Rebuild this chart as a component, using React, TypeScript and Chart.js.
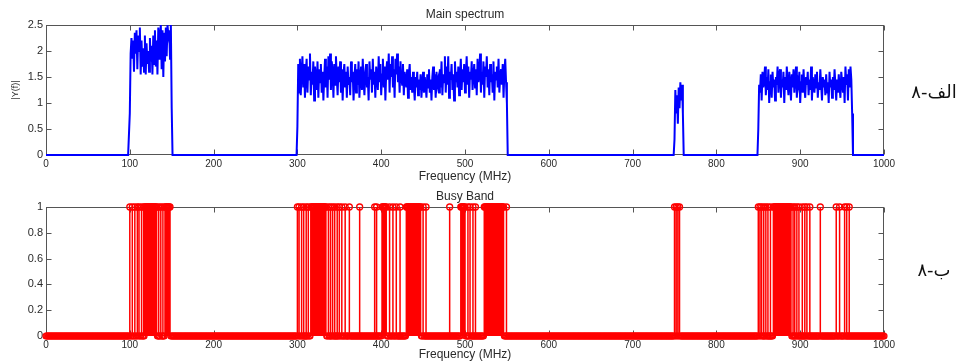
import React, { useEffect, useRef } from "react";
import { Chart, registerables } from "chart.js";

Chart.register(...registerables);

// ---------------- data ----------------
const FREQ_MIN = 0;
const FREQ_MAX = 1000;
const FREQ_STEP = 1;

const xTickValues = [0, 100, 200, 300, 400, 500, 600, 700, 800, 900, 1000];
const spectrumTickValues = [0, 0.5, 1, 1.5, 2, 2.5];
const busyTickValues = [0, 0.2, 0.4, 0.6, 0.8, 1];

// |Y(f)| samples, 1 MHz apart, starting at the band's first frequency
const band1Start = 100;
const band1Values = [
  0.8, 1.95, 2.25, 1.85, 2.2, 1.6, 2.35, 1.95, 2.4, 1.65,
  2.3, 2.0, 2.45, 1.55, 2.2, 1.7, 2.05, 1.6, 2.3, 1.55,
  2.15, 1.75, 2.0, 1.6, 2.25, 1.8, 2.1, 1.55, 2.3, 1.75,
  2.4, 1.7, 2.2, 1.55, 2.45, 1.85, 2.3, 2.5, 1.65, 2.4,
  1.5, 2.35, 1.8, 2.45, 1.9, 2.5, 2.3, 2.4, 1.85, 2.5,
  0.9,
];

const band2Start = 300;
const band2Values = [
  0.55, 1.75, 1.2, 1.85, 1.15, 1.6, 1.9, 1.3, 1.75, 1.1,
  1.55, 1.85, 1.2, 1.7, 1.45, 1.95, 1.15, 1.6, 1.35, 1.8,
  1.05, 1.7, 1.5, 1.25, 1.8, 1.1, 1.65, 1.4, 1.75, 1.2,
  1.6, 1.05, 1.5, 1.85, 1.3, 1.7, 1.1, 1.9, 1.45, 1.95,
  1.25, 1.8, 1.6, 1.1, 1.75, 1.35, 1.9, 1.5, 1.15, 1.7,
  1.4, 1.8, 1.2, 1.65, 1.05, 1.55, 1.75, 1.3, 1.6, 1.1,
  1.7, 1.35, 1.5, 1.15, 1.8, 1.4, 1.6, 1.05, 1.45, 1.75,
  1.2, 1.65, 1.35, 1.8, 1.1, 1.5, 1.7, 1.25, 1.85, 1.4,
  1.15, 1.6, 1.75, 1.3, 1.5, 1.05, 1.8, 1.45, 1.65, 1.2,
  1.85, 1.35, 1.6, 1.1, 1.7, 1.5, 1.25, 1.9, 1.4, 1.75,
  1.15, 1.55, 1.85, 1.3, 1.7, 1.05, 1.6, 1.8, 1.45, 1.95,
  1.2, 1.75, 1.5, 1.9, 1.3, 1.65, 1.1, 1.85, 1.55, 1.95,
  1.4, 1.7, 1.2, 1.8, 1.5, 1.35, 1.75, 1.15, 1.6, 1.45,
  1.3, 1.65, 1.1, 1.55, 1.75, 1.25, 1.5, 1.2, 1.6, 1.35,
  1.05, 1.5, 1.3, 1.6, 1.15, 1.45, 1.25, 1.55, 1.1, 1.4,
  1.6, 1.2, 1.5, 1.35, 1.1, 1.55, 1.3, 1.65, 1.2, 1.45,
  1.05, 1.5, 1.7, 1.25, 1.55, 1.1, 1.6, 1.35, 1.45, 1.2,
  1.65, 1.3, 1.8, 1.15, 1.55, 1.4, 1.9, 1.2, 1.7, 1.35,
  1.9, 1.1, 1.6, 1.45, 1.75, 1.25, 1.55, 1.05, 1.8, 1.4,
  1.6, 1.3, 1.7, 1.15, 1.5, 1.85, 1.25, 1.65, 1.4, 1.75,
  1.2, 1.55, 1.9, 1.35, 1.7, 1.1, 1.6, 1.45, 1.8, 1.25,
  1.5, 1.75, 1.3, 1.65, 1.15, 1.85, 1.4, 1.55, 1.95, 1.2,
  1.6, 1.35, 1.8, 1.1, 1.7, 1.5, 1.9, 1.3, 1.65, 1.15,
  1.75, 1.4, 1.55, 1.2, 1.8, 1.05, 1.6, 1.45, 1.7, 1.3,
  1.85, 1.2, 1.5, 1.65, 1.35, 1.75, 1.1, 1.6, 1.85, 1.4,
  1.0,
];

const band3Start = 750;
const band3Values = [0.3, 1.25, 0.8, 1.15, 0.6, 1.3, 0.9, 1.4, 1.05, 1.35, 0.8];

const band4Start = 850;
const band4Values = [
  0.5, 1.35, 1.2, 1.55, 1.05, 1.6, 1.3, 1.45, 1.7, 1.15,
  1.5, 1.25, 1.65, 1.0, 1.4, 1.55, 1.1, 1.6, 1.3, 1.45,
  1.05, 1.5, 1.35, 1.7, 1.2, 1.55, 1.65, 1.1, 1.45, 1.3,
  1.6, 1.0, 1.5, 1.25, 1.7, 1.35, 1.15, 1.6, 1.4, 1.05,
  1.55, 1.3, 1.65, 1.2, 1.5, 1.7, 1.1, 1.45, 1.35, 1.6,
  1.0, 1.4, 1.55, 1.2, 1.65, 1.3, 1.1, 1.5, 1.35, 1.6,
  1.15, 1.45, 1.25, 1.7, 1.05, 1.5, 1.35, 1.2, 1.55, 1.3,
  1.6, 1.1, 1.4, 1.25, 1.65, 1.35, 1.05, 1.5, 1.3, 1.45,
  1.15, 1.55, 1.2, 1.4, 1.0, 1.6, 1.3, 1.45, 1.1, 1.5,
  1.25, 1.65, 1.35, 1.05, 1.45, 1.2, 1.55, 1.3, 1.1, 1.6,
  1.4, 1.2, 1.5, 1.0, 1.7, 1.35, 1.55, 1.05, 1.65, 1.3,
  1.7, 1.45, 0.8,
];

// Busy-band detections (value 1): solid runs (1 MHz bins) and isolated bins
const busyRanges: [number, number][] = [
  [118, 132], [142, 148],
  [316, 334], [401, 406], [430, 447], [495, 500], [523, 546],
  [868, 889],
];
const busySingles = [
  100, 103, 106, 109, 111, 114, 116.5, 134.5, 137, 139.5,
  300, 302, 305, 307.5, 310.5, 313, 337, 339.5, 342, 344.5, 347.5, 350, 353, 357, 362,
  374.3, 392.2, 394.5, 410, 414, 418, 422.5, 450, 453.5, 481.7,
  503.5, 506, 509.5, 512.5, 549.5,
  750, 752, 754, 756,
  850, 852, 854, 856.5, 859, 861.5, 864.5, 891.5, 893.5, 896, 898.5,
  902.5, 905.5, 908, 911.5, 924, 943, 947, 953, 955.5, 958.5,
];

// Figure labels (Persian): number "8", a dash, then "alef" / "be"
const figNumber = "\u06F8";
const figDash = "-";
const figLetterTop = "\u0627\u0644\u0641";
const figLetterBottom = "\u0628";

// ---------------- helpers ----------------
const spectrumBands = [
  { start: band1Start, values: band1Values },
  { start: band2Start, values: band2Values },
  { start: band3Start, values: band3Values },
  { start: band4Start, values: band4Values },
];

function buildSpectrum() {
  const pts: { x: number; y: number }[] = [];
  for (let f = FREQ_MIN; f <= FREQ_MAX; f += FREQ_STEP) {
    let y = 0;
    for (const b of spectrumBands) {
      const i = f - b.start;
      if (i >= 0 && i < b.values.length) y = b.values[i];
    }
    pts.push({ x: f, y });
  }
  return pts;
}

function buildBusyFreqs() {
  const s: number[] = [...busySingles];
  for (const [a, b] of busyRanges) for (let f = a; f <= b; f += FREQ_STEP) s.push(f);
  return s.sort((p, q) => p - q);
}

const FONT = "'Liberation Sans', Arial, Helvetica, sans-serif";
const TEXT = "#2a2a2a";
const BLUE = "rgb(0,0,255)";
const RED = "rgb(255,0,0)";

const matlabAxes = {
  id: "matlabAxes",
  beforeDatasetsDraw(chart: any, _args: any, opts: any) {
    const { ctx, chartArea: a } = chart;
    const xs = chart.scales.x;
    const ys = chart.scales.y;
    ctx.save();
    ctx.strokeStyle = "#555";
    ctx.lineWidth = 1;
    const L = Math.round(a.left) + 0.5;
    const R = Math.round(a.right) - 0.5;
    const T = Math.round(a.top) + 0.5;
    const B = Math.round(a.bottom) - 0.5;
    ctx.strokeRect(L, T, R - L, B - T);
    ctx.beginPath();
    for (const v of xTickValues) {
      const px = Math.round(xs.getPixelForValue(v)) + 0.5;
      ctx.moveTo(px, B);
      ctx.lineTo(px, B - 5);
      ctx.moveTo(px, T);
      ctx.lineTo(px, T + 5);
    }
    for (const v of opts.yTicks as number[]) {
      const py = Math.round(ys.getPixelForValue(v)) + 0.5;
      ctx.moveTo(L, py);
      ctx.lineTo(L + 5, py);
      ctx.moveTo(R, py);
      ctx.lineTo(R - 5, py);
    }
    ctx.stroke();
    ctx.restore();
  },
  afterDraw(chart: any, _args: any, opts: any) {
    const { ctx, chartArea: a } = chart;
    ctx.save();
    ctx.font = `12px ${FONT}`;
    ctx.fillStyle = TEXT;
    ctx.textAlign = "center";
    ctx.textBaseline = "middle";
    ctx.fillText(opts.title, (a.left + a.right) / 2, a.top - 10);
    ctx.restore();
  },
};

const plainLabel = (v: any) => String(v);

function xScale(height: number, titleBottomPad: number) {
  return {
    type: "linear" as const,
    min: FREQ_MIN,
    max: FREQ_MAX,
    afterBuildTicks: (s: any) => {
      s.ticks = xTickValues.map((v) => ({ value: v }));
    },
    afterFit: (s: any) => {
      s.height = height;
    },
    grid: { display: false, drawTicks: false },
    border: { display: false },
    ticks: {
      font: { family: FONT, size: 10 },
      color: TEXT,
      padding: 3,
      maxRotation: 0,
      autoSkip: false,
      callback: plainLabel,
    },
    title: {
      display: true,
      text: "Frequency (MHz)",
      font: { family: FONT, size: 12, lineHeight: 1 },
      color: TEXT,
      padding: { top: 0, bottom: titleBottomPad },
    },
  };
}

function yScale(min: number, max: number, ticks: number[], title?: string) {
  return {
    type: "linear" as const,
    min,
    max,
    afterBuildTicks: (s: any) => {
      s.ticks = ticks.map((v) => ({ value: v }));
    },
    afterFit: (s: any) => {
      s.width = 46;
    },
    grid: { display: false, drawTicks: false },
    border: { display: false },
    ticks: { font: { family: FONT, size: 11 }, color: TEXT, padding: 3, callback: plainLabel },
    title: title
      ? {
          display: true,
          text: title,
          font: { family: FONT, size: 9, lineHeight: 1.2 },
          color: TEXT,
          padding: { top: 10, bottom: 0 },
        }
      : { display: false },
  };
}

export default function App() {
  const topRef = useRef<HTMLCanvasElement>(null);
  const botRef = useRef<HTMLCanvasElement>(null);

  useEffect(() => {
    document.body.style.margin = "0";
    const spectrum = buildSpectrum();
    const busy = buildBusyFreqs();
    const busySet = new Set(busy);

    const stems: { x: number; y: number }[] = [];
    for (const f of busy) {
      stems.push({ x: f, y: 0 }, { x: f, y: 1 }, { x: f, y: NaN });
    }
    const topMarkers = busy.map((f) => ({ x: f, y: 1 }));
    const baseMarkers: { x: number; y: number }[] = [];
    for (let f = FREQ_MIN; f <= FREQ_MAX; f += FREQ_STEP) {
      if (!busySet.has(f)) baseMarkers.push({ x: f, y: 0 });
    }

    const c1 = new Chart(topRef.current as HTMLCanvasElement, {
      type: "line",
      data: {
        datasets: [
          {
            data: spectrum,
            borderColor: BLUE,
            borderWidth: 2,
            pointRadius: 0,
            tension: 0,
            clip: false,
          } as any,
        ],
      },
      options: {
        animation: false,
        responsive: false,
        events: [],
        layout: { padding: { left: 0, right: 80, top: 25, bottom: 0 } },
        scales: {
          x: xScale(28, 0) as any,
          y: yScale(0, 2.5, spectrumTickValues, "|Y(f)|") as any,
        },
        plugins: {
          legend: { display: false },
          tooltip: { enabled: false },
          matlabAxes: { title: "Main spectrum", yTicks: spectrumTickValues },
        } as any,
      },
      plugins: [matlabAxes],
    });

    const c2 = new Chart(botRef.current as HTMLCanvasElement, {
      type: "line",
      data: {
        datasets: [
          {
            data: stems,
            borderColor: RED,
            borderWidth: 1.5,
            pointRadius: 0,
            spanGaps: false,
            tension: 0,
            clip: false,
          } as any,
          {
            data: topMarkers,
            showLine: false,
            pointRadius: 3,
            pointBorderWidth: 1.3,
            pointBorderColor: RED,
            pointBackgroundColor: "rgba(0,0,0,0)",
            clip: false,
          } as any,
          {
            data: baseMarkers,
            showLine: false,
            pointRadius: 3,
            pointBorderWidth: 1.2,
            pointBorderColor: RED,
            pointBackgroundColor: "rgba(0,0,0,0)",
            clip: false,
          } as any,
        ],
      },
      options: {
        animation: false,
        responsive: false,
        events: [],
        layout: { padding: { left: 0, right: 80, top: 24, bottom: 0 } },
        scales: {
          x: xScale(27, 2) as any,
          y: yScale(0, 1, busyTickValues) as any,
        },
        plugins: {
          legend: { display: false },
          tooltip: { enabled: false },
          matlabAxes: { title: "Busy Band", yTicks: busyTickValues },
        } as any,
      },
      plugins: [matlabAxes],
    });

    return () => {
      c1.destroy();
      c2.destroy();
    };
  }, []);

  const sideLabel = (cy: number): React.CSSProperties => ({
    position: "absolute",
    left: 904,
    width: 60,
    top: cy - 12,
    height: 24,
    display: "flex",
    flexDirection: "row",
    direction: "ltr",
    justifyContent: "center",
    alignItems: "center",
    fontSize: 18,
    lineHeight: "24px",
    fontFamily: "'DejaVu Sans', 'Noto Sans', sans-serif",
    color: "#111",
  });

  return (
    <div style={{ position: "relative", width: 964, height: 363, background: "#fff", overflow: "hidden" }}>
      <canvas ref={topRef} width={964} height={183} style={{ position: "absolute", left: 0, top: 0 }} />
      <canvas ref={botRef} width={964} height={180} style={{ position: "absolute", left: 0, top: 183 }} />
      <div style={sideLabel(92)}>
        <span>{figNumber}</span>
        <span>{figDash}</span>
        <span>{figLetterTop}</span>
      </div>
      <div style={sideLabel(270)}>
        <span>{figNumber}</span>
        <span>{figDash}</span>
        <span>{figLetterBottom}</span>
      </div>
    </div>
  );
}
